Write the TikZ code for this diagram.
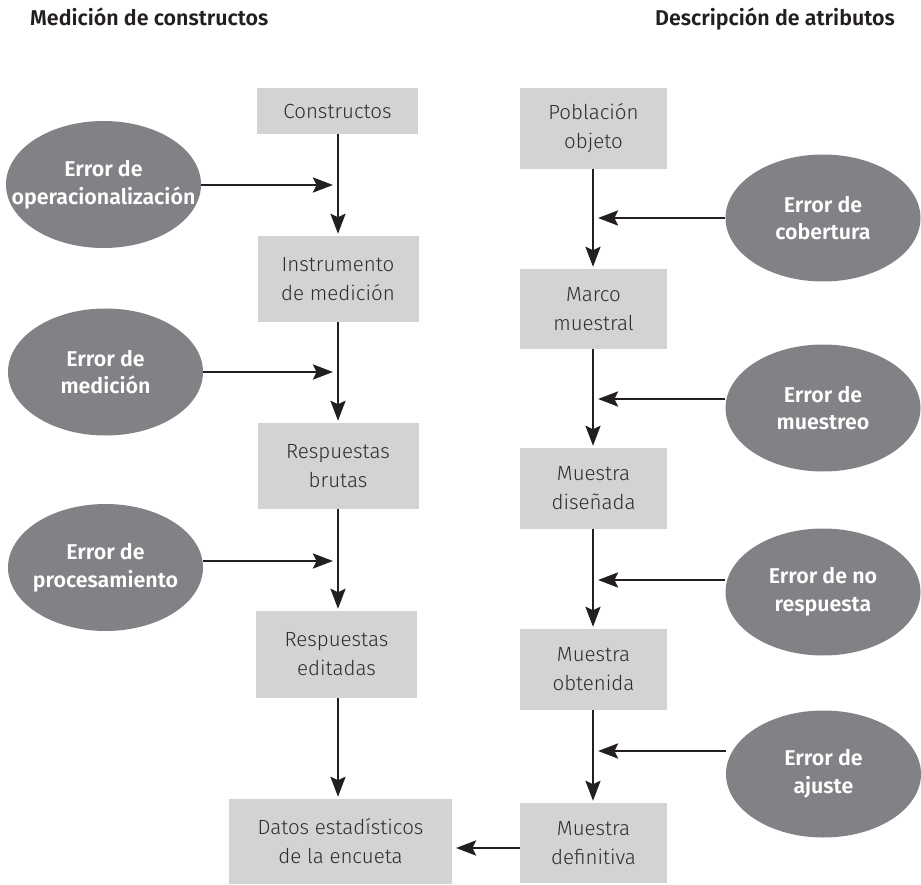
\documentclass[tikz,border=0pt]{standalone}
\usepackage{fontspec}
\usetikzlibrary{shapes.geometric,arrows.meta}
\setmainfont{Fira Sans}
\newfontfamily\boxfont{Fira Sans Light}
\newfontfamily\heavyfont{Fira Sans SemiBold}
\definecolor{boxgray}{HTML}{D1D3D4}
\definecolor{ovalgray}{HTML}{808285}
\definecolor{inkdark}{HTML}{231F20}
\definecolor{textgray}{HTML}{2E2C2D}
\tikzset{
  stagebox/.style={rectangle, fill=boxgray, draw=none, inner sep=0pt, align=center,
    text=textgray, font=\boxfont\fontsize{20.5}{29}\selectfont},
  % negative inner sep keeps the oval at its fixed size whatever the label width
  errorval/.style={ellipse, fill=ovalgray, draw=none, inner xsep=-40pt, inner ysep=0pt,
    align=center, text=white, minimum width=195pt, minimum height=127pt,
    font=\heavyfont\fontsize{21.4}{27.7}\selectfont},
  heading/.style={inner sep=0pt, text=inkdark, font=\heavyfont\fontsize{21.4}{24}\selectfont},
  flow/.style={draw=inkdark, line width=2.6pt,
    -{Stealth[length=20pt, width=15pt, inset=3.5pt]}},
}
\begin{document}
\begin{tikzpicture}[x=1pt, y=-1pt]
\useasboundingbox (0,0) rectangle (921,885);

% column headings
\node[heading, anchor=base west] (hl) at (30,26) {Medición de constructos};
\node[heading, anchor=base east] (hr) at (895,26) {Descripción de atributos};

% measurement stages
\node[stagebox, minimum width=161pt, minimum height=46pt] (c1) at (337.5,111) {Constructos};
\node[stagebox, minimum width=161pt, minimum height=86pt] (c2) at (338,279) {Instrumento\\de medición};
\node[stagebox, minimum width=161pt, minimum height=86pt] (c3) at (338,466) {Respuestas\\brutas};
\node[stagebox, minimum width=161pt, minimum height=87pt] (c4) at (336.5,654.5) {Respuestas\\editadas};
\node[stagebox, minimum width=223pt, minimum height=85pt] (c5) at (340.5,841.5) {Datos estadísticos\\de la encueta};

% representation stages
\node[stagebox, minimum width=147pt, minimum height=81pt] (r1) at (593.5,128.5) {Población\\objeto};
\node[stagebox, minimum width=147pt, minimum height=80pt] (r2) at (593.5,309) {Marco\\muestral};
\node[stagebox, minimum width=147pt, minimum height=81pt] (r3) at (593.5,488.5) {Muestra\\diseñada};
\node[stagebox, minimum width=147pt, minimum height=81pt] (r4) at (593.5,669.5) {Muestra\\obtenida};
\node[stagebox, minimum width=147pt, minimum height=80pt] (r5) at (593.5,843) {Muestra\\definitiva};

% error sources
\node[errorval] (e1) at (103.5,184.5) {Error de\\operacionalización};
\node[errorval] (e2) at (105.5,372) {Error de\\medición};
\node[errorval] (e3) at (105.5,567.5) {Error de\\procesamiento};
\node[errorval] (e4) at (823,218) {Error de\\cobertura};
\node[errorval] (e5) at (823,408) {Error de\\muestreo};
\node[errorval] (e6) at (823,592) {Error de no\\respuesta};
\node[errorval] (e7) at (823.5,774) {Error de\\ajuste};

% where the error arrows meet the flow lines
\coordinate (j1) at (333,185);
\coordinate (j2) at (333,372);
\coordinate (j3) at (333,561);
\coordinate (j4) at (598,218);
\coordinate (j5) at (598,399);
\coordinate (j6) at (598,580);
\coordinate (j7) at (598,751);
\coordinate (j8) at (456,848);
\coordinate (lx) at (338,0);
\coordinate (rx) at (593,0);

% main flow, left column
\draw[flow, shorten >=2pt] (lx |- c1.south) -- (lx |- c2.north);
\draw[flow, shorten >=2pt] (lx |- c2.south) -- (lx |- c3.north);
\draw[flow, shorten >=2pt] (lx |- c3.south) -- (lx |- c4.north);
\draw[flow, shorten >=2pt] (lx |- c4.south) -- (lx |- c5.north);

% main flow, right column
\draw[flow, shorten >=2pt] (rx |- r1.south) -- (rx |- r2.north);
\draw[flow, shorten >=2pt] (rx |- r2.south) -- (rx |- r3.north);
\draw[flow, shorten >=2pt] (rx |- r3.south) -- (rx |- r4.north);
\draw[flow, shorten >=2pt] (rx |- r4.south) -- (rx |- r5.north);

% error arrows
\draw[flow] (e1.east |- j1) -- (j1);
\draw[flow] (e2.east |- j2) -- (j2);
\draw[flow] (e3.east |- j3) -- (j3);
\draw[flow] (e4.west |- j4) -- (j4);
\draw[flow] (e5.west |- j5) -- (j5);
\draw[flow] (e6.west |- j6) -- (j6);
\draw[flow] (e7.west |- j7) -- (j7);

% final merge
\draw[flow] (r5.west |- j8) -- (j8);
\end{tikzpicture}
\end{document}
